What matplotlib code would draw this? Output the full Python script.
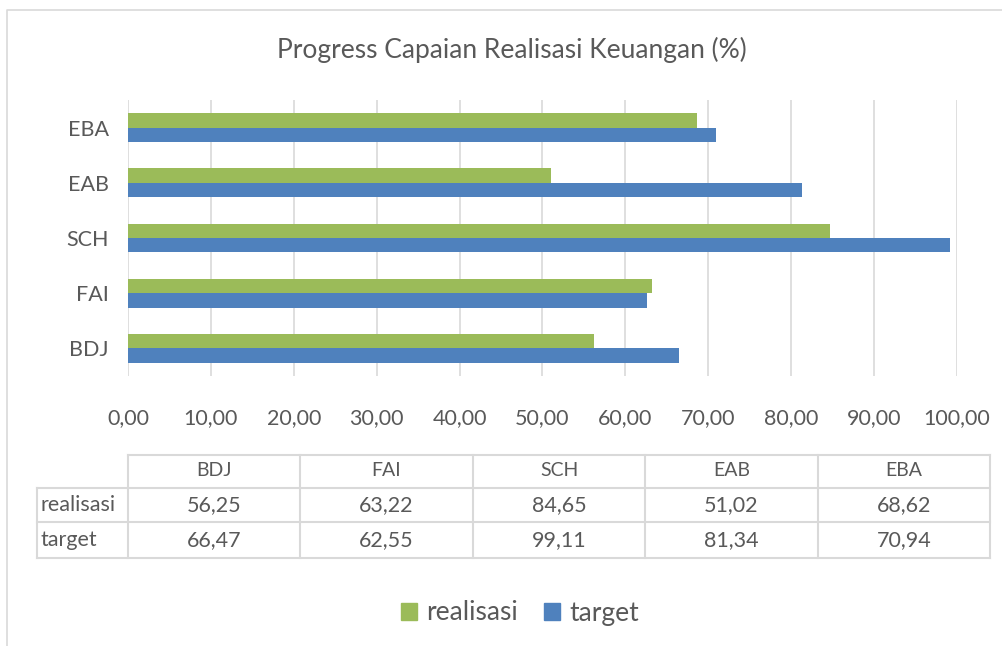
import matplotlib
matplotlib.use('Agg')
import matplotlib.pyplot as plt
import numpy as np

categories = ['BDJ', 'FAI', 'SCH', 'EAB', 'EBA']
realisasi = [56.25, 63.22, 84.65, 51.02, 68.62]
target = [66.47, 62.55, 99.11, 81.34, 70.94]
x_ticks = [0, 10, 20, 30, 40, 50, 60, 70, 80, 90, 100]

GREEN = '#9bbb59'
BLUE = '#4f81bd'
TEXT = '#595959'
GRID = '#d9d9d9'

plt.rcParams['font.family'] = ['Lato', 'DejaVu Sans']

W, H = 1003, 646
fig = plt.figure(figsize=(W / 100, H / 100), dpi=100)


def fx(px):
    return px / W


def fy(py):
    return 1 - py / H


# main bar chart
ax = fig.add_axes([fx(128), fy(376), fx(957) - fx(128), fy(100) - fy(376)])
y = np.arange(len(categories))
bh = 0.26
ax.barh(y + bh / 2, realisasi, height=bh, color=GREEN, zorder=3)
ax.barh(y - bh / 2, target, height=bh, color=BLUE, zorder=3)
ax.set_xlim(0, 100)
ax.set_ylim(-0.5, len(categories) - 0.5)
ax.set_xticks(x_ticks)
ax.set_xticklabels([f'{v:.2f}'.replace('.', ',') for v in x_ticks])
ax.set_yticks(y)
ax.set_yticklabels(categories)
ax.tick_params(length=0, labelsize=15.5, colors=TEXT)
ax.tick_params(axis='x', pad=23)
ax.tick_params(axis='y', pad=14)
ax.grid(axis='x', color=GRID, linewidth=1.2, zorder=0)
for s in ax.spines.values():
    s.set_visible(False)

# overlay in pixel coordinates for title, border, data table and legend
ov = fig.add_axes([0, 0, 1, 1], zorder=-1)
ov.set_xlim(0, W)
ov.set_ylim(H, 0)
ov.axis('off')
ov.plot([7, 7, W], [H, 10, 10], color=GRID, lw=1.2)
ov.text(512, 50, 'Progress Capaian Realisasi Keuangan (%)', ha='center', va='center',
        fontsize=19, color=TEXT)

col_edges = [37, 128, 300, 473, 645, 818, 990]
row_edges = [455, 488, 522, 558]
lc = dict(color=GRID, lw=1.5)
ov.plot([128, 990], [455, 455], **lc)
for yy in row_edges[1:]:
    ov.plot([37, 990], [yy, yy], **lc)
ov.plot([37, 37], [488, 558], **lc)
for xx in col_edges[1:]:
    ov.plot([xx, xx], [455, 558], **lc)
for i, c in enumerate(categories):
    cx = (col_edges[i + 1] + col_edges[i + 2]) / 2
    ov.text(cx, 471, c, ha='center', va='center', fontsize=14, color=TEXT)
    ov.text(cx, 505, f'{realisasi[i]:.2f}'.replace('.', ','), ha='center', va='center',
            fontsize=15.5, color=TEXT)
    ov.text(cx, 540, f'{target[i]:.2f}'.replace('.', ','), ha='center', va='center',
            fontsize=15.5, color=TEXT)
ov.text(41, 505, 'realisasi', ha='left', va='center', fontsize=15.5, color=TEXT)
ov.text(41, 540, 'target', ha='left', va='center', fontsize=15.5, color=TEXT)

# legend
handles = [plt.Rectangle((0, 0), 1, 1, color=GREEN), plt.Rectangle((0, 0), 1, 1, color=BLUE)]
fig.legend(handles, ['realisasi', 'target'], loc='center', bbox_to_anchor=(fx(520), fy(613)),
           ncol=2, frameon=False, fontsize=19, labelcolor=TEXT, handlelength=0.6,
           handleheight=0.6, handletextpad=0.35, columnspacing=1.0)

fig.savefig('out.png', dpi=100)
